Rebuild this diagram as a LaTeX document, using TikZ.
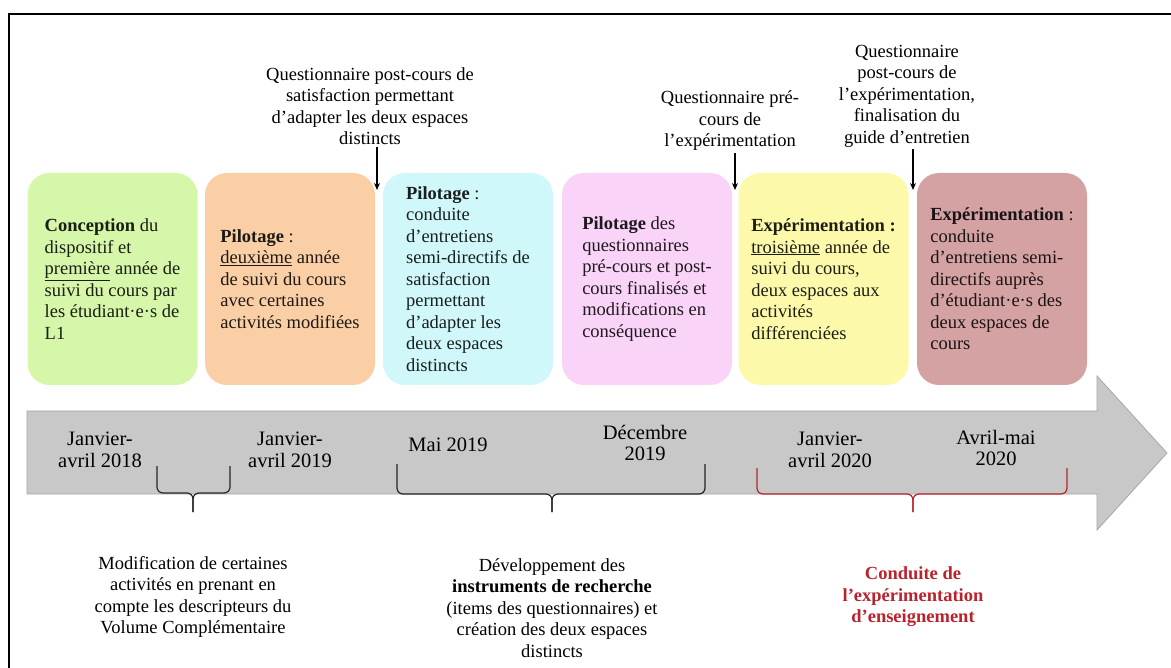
\documentclass[tikz,border=0pt]{standalone}
\usepackage{fontspec}
\setmainfont{Liberation Serif}
\usetikzlibrary{arrows.meta}
\definecolor{cgreen}{RGB}{214,246,170}
\definecolor{corange}{RGB}{250,207,166}
\definecolor{ccyan}{RGB}{208,248,250}
\definecolor{cpink}{RGB}{250,212,248}
\definecolor{cyellow}{RGB}{252,250,170}
\definecolor{crose}{RGB}{212,162,162}
\definecolor{cbar}{RGB}{200,200,200}
\definecolor{cred}{RGB}{185,35,45}
\def\timebrace[#1](#2,#3,#4)(#5,#6,#7){%
  \draw[#1, rounded corners=6pt] (#2,#5) -- (#2,#6) -- (#4,#6) -- (#4,#7);
  \draw[#1, rounded corners=6pt] (#3,#5) -- (#3,#6) -- (#4,#6) -- (#4,#7);}

\begin{document}
\begin{tikzpicture}[x=1pt,y=-1pt,
  txt/.style={font=\fontsize{18.5}{21.5}\selectfont, align=center, inner sep=2pt},
  phase/.style={txt, rounded corners=22pt, minimum width=170pt, minimum height=212pt, align=left, inner sep=0pt},
  datelbl/.style={font=\fontsize{20.5}{21.5}\selectfont, align=center, inner sep=0pt},
  pointer/.style={-{Stealth[length=7pt,width=6pt]}, line width=1.6pt}]
		%%%%% FRAME %%%%%
		\useasboundingbox (0,0) rectangle (1171,668);
		\draw[line width=2pt] (9,668) -- (9,14) -- (1171,14);
		
		%%%%% PHASES %%%%%
		\node[phase, fill=cgreen, text=cgreen!12!black] (b1) at (112.5,279) {\textbf{Conception} du\\dispositif et\\\underline{première} année de\\suivi du cours par\\les étudiant·e·s de\\L1};
		\node[phase, fill=corange, text=corange!12!black] (b2) at (290,279) {\textbf{Pilotage} :\\\underline{deuxième} année\\de suivi du cours\\avec certaines\\activités modifiées};
		\node[phase, fill=ccyan, text=ccyan!12!black] (b3) at (468,279) {\textbf{Pilotage} :\\conduite\\d’entretiens\\semi-directifs de\\satisfaction\\permettant\\d’adapter les\\deux espaces\\distincts};
		\node[phase, fill=cpink, text=cpink!12!black] (b4) at (647,279) {\textbf{Pilotage} des\\questionnaires\\pré-cours et post-\\cours finalisés et\\modifications en\\conséquence};
		\node[phase, fill=cyellow, text=cyellow!12!black] (b5) at (823.5,279) {\textbf{Expérimentation :}\\\underline{troisième} année de\\suivi du cours,\\deux espaces aux\\activités\\différenciées};
		\node[phase, fill=crose, text=crose!12!black] (b6) at (1002,279) {\textbf{Expérimentation} :\\conduite\\d’entretiens semi-\\directifs auprès\\d’étudiant·e·s des\\deux espaces de\\cours};
		
		%%%%% QUESTIONNAIRES %%%%%
		\node[txt] (q1) at (370,106) {Questionnaire post-cours de\\satisfaction permettant\\d’adapter les deux espaces\\distincts};
		\node[txt] (q2) at (730,121) {Questionnaire pré-\\cours de\\l’expérimentation};
		\node[txt] (q3) at (907,96) {Questionnaire\\post-cours de\\l’expérimentation,\\finalisation du\\guide d’entretien};
		\coordinate (a1) at (377,190);
		\coordinate (a2) at (735,190);
		\coordinate (a3) at (913,190);
		\draw[pointer] (q1.south -| a1) -- (a1);
		\draw[pointer] (q2.south -| a2) -- (a2);
		\draw[pointer] (q3.south -| a3) -- (a3);
		
		%%%%% TIMELINE %%%%%
		\draw[fill=cbar, draw=black!35, line width=0.8pt] (27,411) -- (1097,411) -- (1097,376) -- (1167,453) -- (1097,530) -- (1097,494) -- (27,494) -- cycle;
		
		\node[datelbl] (d1) at (100,450) {Janvier-\\avril 2018};
		\node[datelbl] (d2) at (290,450) {Janvier-\\avril 2019};
		\node[datelbl] (d3) at (448,445) {Mai 2019};
		\node[datelbl] (d4) at (645,443) {Décembre\\2019};
		\node[datelbl] (d5) at (830,450) {Janvier-\\avril 2020};
		\node[datelbl] (d6) at (996,448) {Avril-mai\\2020};
		
		\timebrace[line width=1.2pt, black!85](157,230,193)(466,493,512);
		\timebrace[line width=1.2pt, black!85](397,705,552)(464,494,512);
		\timebrace[line width=1.2pt, cred](757,1067,913)(468,494,512);
		
		%%%%% NOTES %%%%%
		\node[txt] (m1) at (193,597) {Modification de certaines\\activités en prenant en\\compte les descripteurs du\\Volume Complémentaire};
		\node[txt] (m2) at (552,608) {Développement des\\\textbf{instruments de recherche}\\(items des questionnaires) et\\création des deux espaces\\distincts};
		\node[txt, text=cred, font=\bfseries\fontsize{18.5}{21.5}\selectfont] (m3) at (913,597) {Conduite de\\l’expérimentation\\d’enseignement};
		
	\end{tikzpicture}
\end{document}
